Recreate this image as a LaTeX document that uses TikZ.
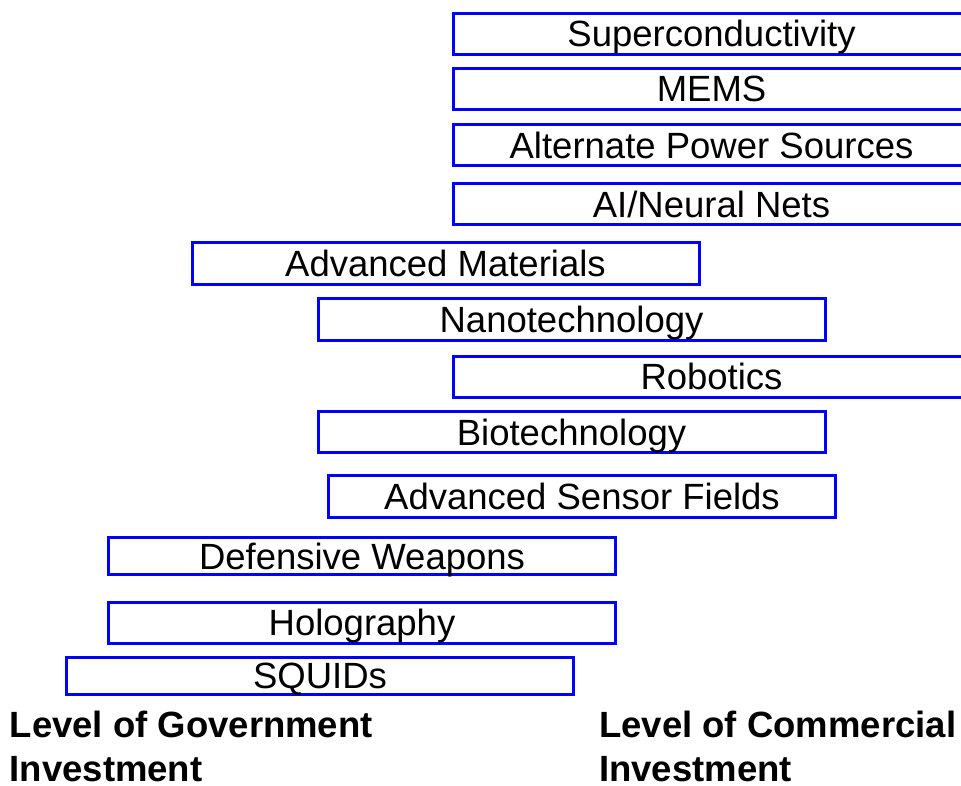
\documentclass[tikz,border=0pt]{standalone}
\usepackage{fontspec}
\setmainfont{Liberation Sans}
\tikzset{
  tech/.style = {
    rectangle, draw=blue, line width=3pt,
    minimum width=507pt, minimum height=41pt,
    text height=26pt, text depth=0pt, inner sep=0pt,
    font=\fontsize{36.5}{44}\selectfont
  },
  %% boxes that run past the right edge
  openright/.style = {
    minimum width=530pt, xshift=11.5pt,
    execute at end node={\hspace{14pt}}
  },
  axislbl/.style = {
    anchor=north west, align=left, inner sep=0pt,
    font=\fontsize{36.5}{44}\selectfont\bfseries
  }
}

\begin{document}
\begin{tikzpicture}[x=1pt, y=-1pt]
  \useasboundingbox (0,0) rectangle (961,785);
  \clip (0,0) rectangle (961,785);

  %% Commercially driven (right column, runs off the edge)
  \node[tech, openright] (super) at (707, 33.5) {Superconductivity};
  \node[tech, openright] (mems)  at (707, 88.5) {MEMS};
  \node[tech, openright] (power) at (707, 145)  {Alternate Power Sources};
  \node[tech, openright] (ai)    at (707, 204)  {AI/Neural Nets};

  %% Mixed investment
  \node[tech, minimum height=42pt] (matl)   at (445.5, 263.5) {Advanced Materials};
  \node[tech, minimum height=42pt] (nano)   at (571.5, 319.5) {Nanotechnology};
  \node[tech, openright] (robot)  at (707, 376.5)   {Robotics};
  \node[tech] (bio)    at (571.5, 432)   {Biotechnology};
  \node[tech, minimum height=42pt] (sensor) at (582, 496.5)   {Advanced Sensor Fields};

  %% Government driven (left column)
  \node[tech, minimum height=37pt] (weapon) at (362, 556)   {Defensive Weapons};
  \node[tech] (holo)   at (362, 622.5) {Holography};
  \node[tech, minimum height=37pt] (squid)  at (320, 675.5) {SQUIDs};

  %% Axis labels
  \node[axislbl] (gov) at (9.5, 711) {Level of Government\\Investment};
  \node[axislbl] (com) at (599, 711) {Level of Commercial\\Investment};
\end{tikzpicture}
\end{document}
